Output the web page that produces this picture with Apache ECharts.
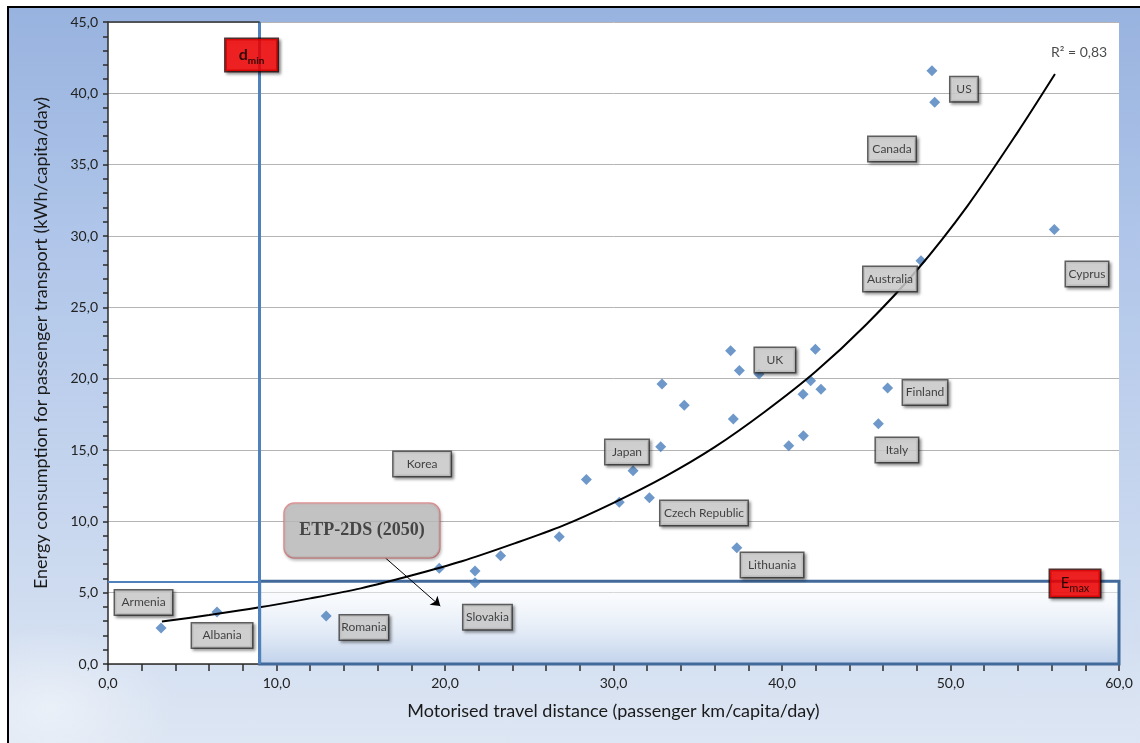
<!DOCTYPE html>
<html>
<head>
<meta charset="utf-8">
<title>Energy consumption vs motorised travel distance</title>
<script src="https://cdn.jsdelivr.net/npm/echarts@6/dist/echarts.min.js"></script>
<style>
  html, body { margin: 0; padding: 0; background: #ffffff; }
  #frame {
    position: absolute; left: 7px; top: 6px; width: 1133px; height: 737px;
    border-top: 2px solid #000; border-left: 2px solid #000;
    background:
      radial-gradient(ellipse 180px 120px at 40px 700px, rgba(255,255,255,0.45), rgba(255,255,255,0) 70%),
      linear-gradient(to bottom, #98b3df 0%, #afc5e9 30%, #c5d5ee 65%, #dde6f3 100%);
  }
  #chart { position: absolute; left: 0; top: 0; width: 1140px; height: 743px; }
</style>
</head>
<body>
<div id="frame"></div>
<div id="chart"></div>
<script>
// Countries: motorised travel distance (km/capita/day) and passenger-transport energy (kWh/capita/day)
const distance = [3.15, 6.47, 12.95, 19.66, 21.78, 21.78, 23.3, 26.78, 28.39, 30.34, 31.16, 32.13,
  32.8, 32.88, 34.2, 36.95, 37.47, 37.11, 38.64, 40.4, 41.27, 41.25, 41.7, 41.98, 42.31,
  45.72, 46.27, 48.9, 49.06, 56.16, 48.25, 37.32];
const energy = [2.52, 3.64, 3.36, 6.71, 6.52, 5.70, 7.59, 8.92, 12.94, 11.33, 13.55, 11.65,
  15.23, 19.62, 18.13, 21.96, 20.58, 17.17, 20.32, 15.3, 16.0, 18.9, 19.85, 22.07, 19.25,
  16.84, 19.34, 41.58, 39.38, 30.46, 28.26, 8.15];

// Exponential trend line (R² = 0,83), sampled along its course
const trendX = [3.2, 6, 9, 12, 15, 18, 21, 24, 27, 30, 33, 36, 39, 42, 45, 48, 51, 54, 56.2];
const trendY = [2.98, 3.43, 3.97, 4.6, 5.3, 6.2, 7.2, 8.4, 9.7, 11.3, 13.1, 15.2, 17.7, 20.5,
  23.8, 27.6, 32.1, 37.3, 41.35];

// Thresholds
const D_MIN = 9.0;   // minimum travel distance
const E_MAX = 5.8;   // maximum energy use

// Axis ranges and tick steps
const xTicks = { min: 0, max: 60, step: 10 };
const yTicks = { min: 0, max: 45, step: 5 };

// Texts
const xTitle = 'Motorised travel distance (passenger km/capita/day)';
const yTitle = 'Energy consumption for passenger transport (kWh/capita/day)';
const fitText = 'R² = 0,83';
const scenarioText = 'ETP-2DS (2050)';
const countryNames = ['Armenia', 'Albania', 'Romania', 'Slovakia', 'Korea', 'Japan', 'Czech Republic',
  'Lithuania', 'UK', 'Finland', 'Italy', 'Australia', 'Canada', 'US', 'Cyprus'];

// ---- layout of the call-out boxes (data units for anchor, px for box width) ----
const calloutLayout = [
  [2.11, 4.31, 57], [6.77, 2.0, 60], [15.19, 2.56, 48], [22.52, 3.27, 48], [18.64, 14.02, 57],
  [30.8, 14.86, 43], [35.37, 10.58, 87], [39.41, 6.94, 62], [39.58, 21.3, 40], [48.49, 19.03, 44],
  [46.82, 15.0, 42], [46.41, 26.98, 53], [46.53, 36.09, 47], [50.8, 40.29, 27], [58.1, 27.33, 42]
];
const fitAnchor = [57.63, 42.89];
const dminAnchor = [8.52, 42.68];
const emaxAnchor = [57.39, 5.64];
const scenarioAnchor = [15.07, 9.36];
const arrowFrom = [16.47, 7.43];
const arrowTo = [19.72, 4.06];

const FONT = 'Lato, "Open Sans", sans-serif';
const comma = v => v.toFixed(1).replace('.', ',');

const points = distance.map((d, i) => [d, energy[i]]);
const trend = trendX.map((d, i) => [d, trendY[i]]);

const greyBox = {
  show: true, position: 'inside', color: '#1a1a1a', fontFamily: FONT, fontSize: 12,
  backgroundColor: '#d9d9d9', borderColor: '#3a3a3a', borderWidth: 1.5,
  padding: [5, 0, 5, 0], align: 'center', verticalAlign: 'middle', lineHeight: 14,
  shadowColor: 'rgba(0,0,0,0.45)', shadowBlur: 3, shadowOffsetX: 2, shadowOffsetY: 2
};

const calloutData = countryNames.map((n, i) => ({
  name: n,
  value: [calloutLayout[i][0], calloutLayout[i][1]],
  label: Object.assign({}, greyBox, { formatter: n, width: calloutLayout[i][2] })
}));

calloutData.push({
  name: 'fit', value: fitAnchor,
  label: { show: true, position: 'inside', formatter: fitText, fontFamily: FONT, fontSize: 14, color: '#1a1a1a' }
});
calloutData.push({
  name: 'dmin', value: dminAnchor,
  label: {
    show: true, position: 'inside', formatter: '{d|d}{s|min}', width: 52, align: 'center',
    backgroundColor: '#ff0000', borderColor: '#2a0000', borderWidth: 1.5, padding: [5, 0, 5, 0],
    shadowColor: 'rgba(0,0,0,0.45)', shadowBlur: 3, shadowOffsetX: 2, shadowOffsetY: 2,
    rich: {
      d: { fontFamily: FONT, fontSize: 16, fontWeight: 'bold', color: '#000', lineHeight: 22, verticalAlign: 'middle' },
      s: { fontFamily: FONT, fontSize: 10, fontWeight: 'bold', color: '#000', lineHeight: 12, verticalAlign: 'bottom' }
    }
  }
});
calloutData.push({
  name: 'emax', value: emaxAnchor,
  label: {
    show: true, position: 'inside', formatter: '{e|E}{s|max}', width: 50, align: 'center',
    backgroundColor: '#ff0000', borderColor: '#2a0000', borderWidth: 1.5, padding: [3.5, 0, 3.5, 0],
    shadowColor: 'rgba(0,0,0,0.45)', shadowBlur: 3, shadowOffsetX: 2, shadowOffsetY: 2,
    rich: {
      e: { fontFamily: FONT, fontSize: 15, color: '#000', lineHeight: 20, verticalAlign: 'middle' },
      s: { fontFamily: FONT, fontSize: 11, color: '#000', lineHeight: 12, verticalAlign: 'bottom' }
    }
  }
});
calloutData.push({
  name: 'scenario', value: scenarioAnchor,
  label: {
    show: true, position: 'inside', formatter: scenarioText, width: 155, height: 54,
    align: 'center', verticalAlign: 'middle', lineHeight: 54,
    fontFamily: '"Liberation Serif", "DejaVu Serif", serif', fontWeight: 'bold', fontSize: 18, color: '#262626',
    backgroundColor: '#bfbfbf', borderColor: '#d9787b', borderWidth: 1.2, borderRadius: 10, padding: 0,
    shadowColor: 'rgba(0,0,0,0.25)', shadowBlur: 3, shadowOffsetX: 1, shadowOffsetY: 2
  }
});

const chart = echarts.init(document.getElementById('chart'), null, { renderer: 'canvas' });

chart.setOption({
  backgroundColor: 'transparent',
  animation: false,
  grid: { left: 108, right: 21, top: 22, bottom: 79, show: true, backgroundColor: '#ffffff', borderWidth: 0 },
  xAxis: {
    type: 'value', min: xTicks.min, max: xTicks.max, interval: xTicks.step,
    name: xTitle, nameLocation: 'middle', nameGap: 38,
    nameTextStyle: { fontFamily: FONT, fontSize: 18, color: '#1a1a1a' },
    axisLine: { show: true, lineStyle: { color: '#2b2b2b', width: 1.5 } },
    axisTick: { show: true, length: 7, lineStyle: { color: '#2b2b2b', width: 1.5 } },
    minorTick: { show: true, splitNumber: 5, length: 7, lineStyle: { color: '#2b2b2b', width: 1.5 } },
    splitLine: { show: false },
    axisLabel: { formatter: comma, fontFamily: FONT, fontSize: 14, color: '#222', margin: 12 }
  },
  yAxis: {
    type: 'value', min: yTicks.min, max: yTicks.max, interval: yTicks.step,
    name: yTitle, nameLocation: 'middle', nameGap: 58, nameRotate: 90,
    nameTextStyle: { fontFamily: FONT, fontSize: 18, color: '#1a1a1a' },
    axisLine: { show: true, lineStyle: { color: '#2b2b2b', width: 1.5 } },
    axisTick: { show: true, length: 5, lineStyle: { color: '#2b2b2b', width: 1.5 } },
    minorTick: { show: true, splitNumber: 5, length: 5, lineStyle: { color: '#2b2b2b', width: 1.5 } },
    splitLine: { show: true, lineStyle: { color: '#b4b4b4', width: 1 } },
    axisLabel: { formatter: comma, fontFamily: FONT, fontSize: 14, color: '#222', margin: 10 }
  },
  series: [
    {
      // country observations
      type: 'scatter', z: 2, silent: true,
      symbol: 'diamond', symbolSize: 11,
      itemStyle: { color: '#4a7ebb' },
      data: points
    },
    {
      // reference lines and the target zone
      type: 'scatter', z: 3, silent: true, data: [],
      markArea: {
        silent: true,
        itemStyle: {
          color: new echarts.graphic.LinearGradient(0, 0, 0, 1, [
            { offset: 0, color: 'rgba(255,255,255,0.45)' },
            { offset: 0.5, color: 'rgba(222,232,245,0.65)' },
            { offset: 1, color: 'rgba(186,205,233,0.92)' }
          ]),
          borderColor: '#41699a', borderWidth: 3
        },
        label: { show: false },
        data: [[{ coord: [D_MIN, 0] }, { coord: [xTicks.max, E_MAX] }]]
      },
      markLine: {
        silent: true, symbol: ['none', 'none'], label: { show: false },
        data: [
          [{ coord: [D_MIN, yTicks.max], lineStyle: { color: '#4f81bd', width: 3, type: 'solid' } }, { coord: [D_MIN, 0] }],
          [{ coord: [0, E_MAX], lineStyle: { color: '#4f81bd', width: 2, type: 'solid' } }, { coord: [D_MIN, E_MAX] }],
          [{ coord: [0, yTicks.max], lineStyle: { color: '#333', width: 1.5, type: 'solid' } }, { coord: [D_MIN, yTicks.max] }]
        ]
      }
    },
    {
      // trend line
      type: 'line', z: 4, silent: true, smooth: 0.3, showSymbol: false, symbol: 'none',
      lineStyle: { color: '#000', width: 2 },
      data: trend,
      markLine: {
        silent: true, symbol: ['none', 'arrow'], symbolSize: 9, label: { show: false },
        lineStyle: { color: '#000', width: 1, type: 'solid' },
        data: [[{ coord: arrowFrom }, { coord: arrowTo }]]
      }
    },
    {
      // call-out boxes and notes
      type: 'scatter', z: 6, silent: true, symbolSize: 1,
      itemStyle: { color: 'rgba(0,0,0,0)' },
      data: calloutData
    }
  ]
});
</script>
</body>
</html>
